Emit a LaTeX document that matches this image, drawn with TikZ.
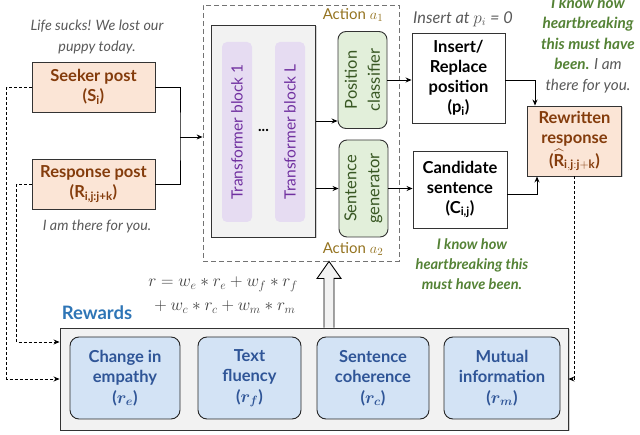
\documentclass[tikz,border=0pt]{standalone}
\usepackage{fontspec}
\setmainfont{Lato}
\usepackage{amsmath}
\usetikzlibrary{arrows.meta,calc,shadows}
\definecolor{peach}{HTML}{FBE5D6}
\definecolor{brownT}{HTML}{843C0C}
\definecolor{grayT}{HTML}{595959}
\definecolor{greenT}{HTML}{548235}
\definecolor{oliveT}{HTML}{947320}
\definecolor{purpF}{HTML}{E6DCF2}
\definecolor{purpT}{HTML}{7030A0}
\definecolor{grnF}{HTML}{E2EFDA}
\definecolor{grnT}{HTML}{385723}
\definecolor{bluF}{HTML}{D3E3F5}
\definecolor{bluT}{HTML}{2F5597}
\definecolor{bluL}{HTML}{2E75B6}
\definecolor{lgray}{HTML}{F2F2F2}
\begin{document}
\begin{tikzpicture}[x=1pt,y=-1pt,
  boxtext/.style={font=\fontsize{16.5}{20}\selectfont\bfseries, align=center, inner sep=0pt},
  peachbox/.style={boxtext, draw=black!80, line width=0.9pt, fill=peach, text=brownT},
  whitebox/.style={boxtext, draw=black!80, line width=0.9pt, fill=white, text=black},
  shad/.style={drop shadow={opacity=0.35, shadow xshift=1.5pt, shadow yshift=-1.5pt}},
  rbox/.style={boxtext, draw=black!85, line width=0.9pt, fill=bluF, text=bluT, rounded corners=9pt, minimum height=82pt, font=\fontsize{16.5}{20.5}\selectfont\bfseries},
  itxt/.style={font=\fontsize{14.3}{20.5}\selectfont\itshape, text=grayT, align=center, inner sep=0pt},
  gtxt/.style={font=\fontsize{14.6}{20}\selectfont\bfseries\itshape, text=greenT, align=center, inner sep=0pt},
  rottxt/.style={rotate=90, font=\fontsize{16.5}{23}\selectfont, align=center, inner sep=0pt},
  arr/.style={-{Stealth[length=6pt,width=5pt]}, line width=0.9pt},
  dasharr/.style={dash pattern=on 3pt off 2pt, -{Stealth[length=6pt,width=5pt]}, line width=0.8pt},
  actlbl/.style={font=\fontsize{15}{18}\selectfont, text=oliveT, inner sep=0pt}
]
\useasboundingbox (0,0) rectangle (640,435);

% left inputs
\node[itxt] (t1) at (97,37) {Life sucks! We lost our\\puppy today.};
\node[peachbox, minimum width=123pt, minimum height=50pt] (seeker) at (93.5,87) {Seeker post\\(S\textsubscript{i})};
\node[peachbox, minimum width=123pt, minimum height=50pt] (response) at (93.5,184) {Response post\\(R\textsubscript{i,j:j+k})};
\node[itxt] (t2) at (97,226) {I am there for you.};

% policy dashed box
\node[draw=black!55, dash pattern=on 5pt off 3pt, line width=0.8pt, minimum width=196pt, minimum height=256pt, inner sep=0pt] (outer) at (301,133) {};
\node[fill=lgray, draw=black!80, line width=0.9pt, minimum width=104pt, minimum height=212pt, inner sep=0pt, shad] (trans) at (263.5,131) {};
\node[fill=purpF, rounded corners=5pt, minimum width=30pt, minimum height=180pt, inner sep=0pt] (tb1) at (237,132) {};
\node[rottxt, text=purpT, font=\fontsize{15.5}{20}\selectfont] at (tb1) {Transformer block 1};
\node[fill=purpF, rounded corners=5pt, minimum width=30pt, minimum height=180pt, inner sep=0pt] (tbL) at (290,132) {};
\node[rottxt, text=purpT, font=\fontsize{15.5}{20}\selectfont] at (tbL) {Transformer block L};
\node[font=\fontsize{15}{16}\selectfont\bfseries, inner sep=0pt] (dots) at (263.5,130) {...};

\node[fill=grnF, draw=black!80, line width=0.9pt, rounded corners=8pt, minimum width=49pt, minimum height=97pt, inner sep=0pt] (pos) at (362.5,80) {};
\node[rottxt, text=grnT] at (pos) {Position\\classifier};
\node[fill=grnF, draw=black!80, line width=0.9pt, rounded corners=8pt, minimum width=49pt, minimum height=97pt, inner sep=0pt] (sg) at (363.5,188.5) {};
\node[rottxt, text=grnT] at (sg) {Sentence\\generator};

\node[actlbl] (a1) at (353,15) {Action $a_1$};
\node[actlbl] (a2) at (353,249) {Action $a_2$};

% outputs
\node[whitebox, minimum width=93pt, minimum height=90pt] (ins) at (458.5,78) {Insert/\\Replace\\position\\(p\textsubscript{i})};
\node[itxt, font=\fontsize{16.3}{20}\selectfont\itshape] (t3) at (463,19) {Insert at $p_i$ = 0};
\node[whitebox, minimum width=94pt, minimum height=77pt] (cand) at (460,189.5) {Candidate\\sentence\\(C\textsubscript{i,j})};
\node[gtxt] (t4) at (472,264) {I know how\\heartbreaking this\\must have been.};
\node[peachbox, minimum width=94pt, minimum height=70pt, shad] (rw) at (574.5,141) {Rewritten\\response\\[3pt]($\widehat{\mathbf{R}}_{\mathbf{i,j:j+k}}$)};
\node[itxt, font=\fontsize{15.3}{20.5}\selectfont\itshape] (t5) at (588,45) {\textcolor{greenT}{\bfseries I know how}\\\textcolor{greenT}{\bfseries heartbreaking}\\\textcolor{greenT}{\bfseries this must have}\\\textcolor{greenT}{\bfseries been.} I am\\there for you.};

% rewards
\node[fill=lgray, draw=black!80, line width=0.9pt, minimum width=508pt, minimum height=102pt, inner sep=0pt, shad] (rewards) at (314,379) {};
\node[font=\fontsize{18.5}{20}\selectfont\bfseries, text=bluL, inner sep=0pt] (rl) at (97,313) {Rewards};
\node[font=\fontsize{18}{24}\selectfont, text=black!75, align=center, inner sep=0pt] (formula) at (223,295) {$r = w_e * r_e + w_f * r_f$\\${}+w_c * r_c + w_m * r_m$};
\node[rbox, minimum width=110pt] (r1) at (125,378) {Change in\\empathy\\({\boldmath$r_e$})};
\node[rbox, minimum width=103pt] (r2) at (249.5,378) {Text\\fluency\\({\boldmath$r_f$})};
\node[rbox, minimum width=112pt] (r3) at (373,378) {Sentence\\coherence\\({\boldmath$r_c$})};
\node[rbox, minimum width=116pt] (r4) at (502,378) {Mutual\\information\\({\boldmath$r_m$})};

% connectors
\coordinate (jn) at (180,137);
\coordinate (ax) at (329,0);
\draw[line width=0.9pt] (seeker.east) -| (jn) |- (response.east);
\draw[arr] (jn) -- (jn -| outer.west);
\draw[arr] ($(trans.east)+(0,-10)$) -- ($(trans.east -| pos.west)+(0,-10)$);
\draw[arr] (trans.east |- sg) -- (sg.west);
\draw[arr] (pos.east) -- (pos.east -| ins.west);
\draw[arr] (sg.east) -- (sg.east -| cand.west);
\draw[arr] (ins.east |- pos.east) -| ($(rw.north)+(-39.5,0)$);
\draw[arr] ($(cand.east)+(0,5)$) -| ($(rw.south)+(-37.5,0)$);
\draw[dasharr] (rw.south) |- (rewards.east);
\draw[dasharr] (seeker.west) -| ($(rewards.west)+(-53,0)$) -- (rewards.west);
\draw[dasharr] (response.west) -| ($(rewards.west)+(-43,-37)$) -- ($(rewards.west)+(0,-37)$);
% hollow arrow
\draw[fill=lgray, line width=0.9pt, line join=miter] ($(rewards.north -| ax)+(-5,0)$) -- ++(0,-49) -- ++(-7,0) -- (outer.south -| ax) -- ++(12,17) -- ++(-7,0) -- ($(rewards.north -| ax)+(5,0)$);
\end{tikzpicture}
\end{document}
